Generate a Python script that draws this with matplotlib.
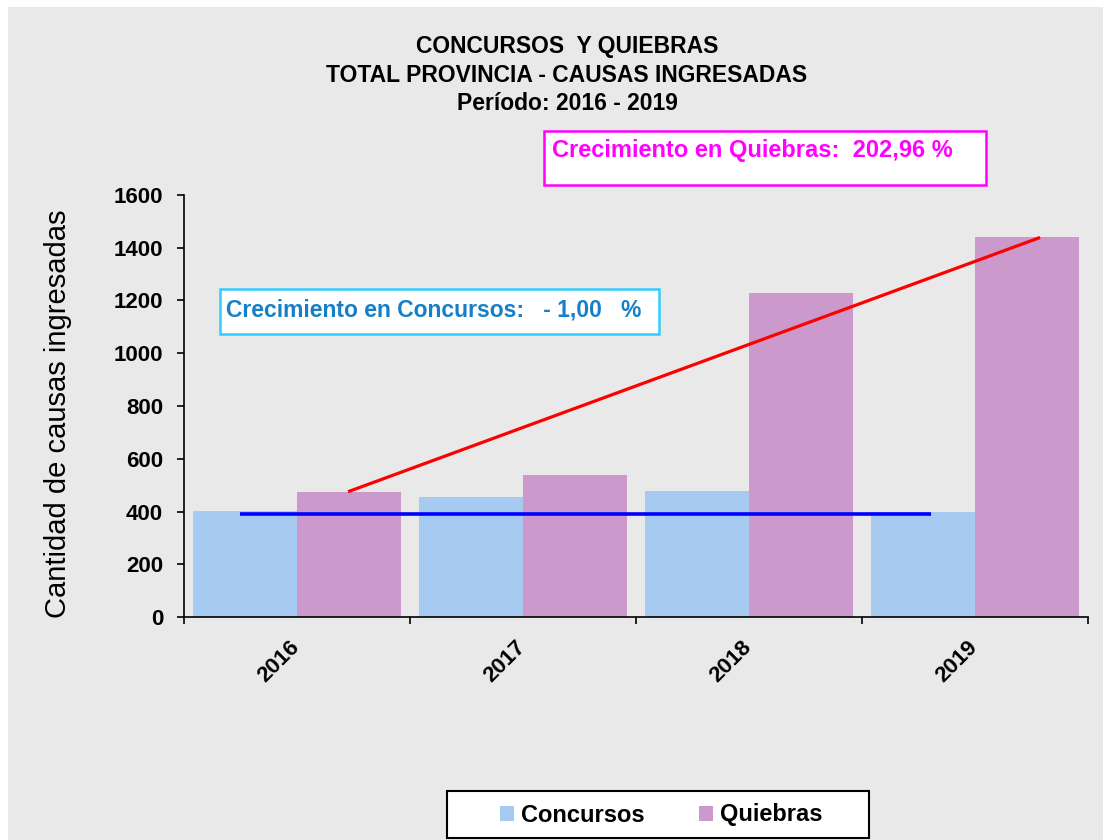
import matplotlib
matplotlib.use("Agg")
import matplotlib.pyplot as plt
import matplotlib.transforms as mtransforms
from matplotlib.patches import Rectangle, Patch
import numpy as np

# ---- data ----
years = ["2016", "2017", "2018", "2019"]
concursos = [402, 456, 477, 398]
quiebras = [475, 538, 1227, 1439]
yticks = [0, 200, 400, 600, 800, 1000, 1200, 1400, 1600]
# trend lines (x in category units, y in data units)
trend_quiebras_x = [0.226, 3.288]
trend_quiebras_y = [475, 1439]
trend_concursos_x = [-0.252, 2.805]
trend_concursos_y = [389, 389]

title = "CONCURSOS  Y QUIEBRAS\nTOTAL PROVINCIA - CAUSAS INGRESADAS\nPeríodo: 2016 - 2019"
ylabel = "Cantidad de causas ingresadas"
note_q = "Crecimiento en Quiebras:  202,96 %"
note_c = "Crecimiento en Concursos:   - 1,00   %"

C_CONC = "#A6CAF0"
C_QUIE = "#CC99CC"

plt.rcParams['font.family'] = ['Liberation Sans', 'DejaVu Sans']

W, H = 1103, 840
fig = plt.figure(figsize=(W / 100, H / 100), dpi=100)
fig.patch.set_facecolor("white")

def fx(px):
    return px / W

def fy(py):
    return 1 - py / H

# gray background
fig.patches.append(Rectangle((fx(8), 0), 1 - fx(8), fy(7), transform=fig.transFigure,
                             facecolor="#e9e9e9", edgecolor="none", zorder=-5))

ax = fig.add_axes([fx(184), fy(617), fx(1088) - fx(184), fy(195) - fy(617)])
ax.set_facecolor("none")
ax.set_zorder(1)

x = np.arange(len(years))
bw = 0.46
ax.bar(x - bw / 2, concursos, width=bw, color=C_CONC, label="Concursos", zorder=2)
ax.bar(x + bw / 2, quiebras, width=bw, color=C_QUIE, label="Quiebras", zorder=2)

ax.plot(trend_quiebras_x, trend_quiebras_y, color="#FF0000", lw=2.3, zorder=3, solid_capstyle="butt")
ax.plot(trend_concursos_x, trend_concursos_y, color="#0000FF", lw=2.6, zorder=3, solid_capstyle="butt")

ax.set_xlim(-0.5, 3.5)
ax.set_ylim(0, 1600)
ax.set_yticks(yticks)
ax.set_yticklabels([str(v) for v in yticks], fontsize=16, fontweight="bold")
ax.tick_params(axis="y", direction="out", length=5, width=1.2, pad=10)

ax.set_xticks(x)
ax.set_xticklabels(years, fontsize=16, fontweight="bold", rotation=45, ha="right", va="top",
                   rotation_mode="anchor")
ax.tick_params(axis="x", which="major", length=0, pad=14)
shift = mtransforms.ScaledTranslation(-8 / 100, 0, fig.dpi_scale_trans)
for lab in ax.get_xticklabels():
    lab.set_transform(lab.get_transform() + shift)
ax.set_xticks(np.arange(-0.5, 4.0, 1.0), minor=True)
ax.tick_params(axis="x", which="minor", direction="out", length=5, width=1.2)

for s in ["top", "right"]:
    ax.spines[s].set_visible(False)
for s in ["left", "bottom"]:
    ax.spines[s].set_linewidth(1.2)

ax.set_ylabel(ylabel, fontsize=21)
ax.yaxis.set_label_coords((72 - 184) / 904, (617 - 414) / 422)

# title
fig.text(fx(567), fy(75), title, ha="center", va="center", fontsize=16.5, fontweight="bold",
         linespacing=1.3)

# annotation boxes
fig.patches.append(Rectangle((fx(544), fy(185)), fx(986) - fx(544), fy(131) - fy(185),
                             transform=fig.transFigure, facecolor="white", edgecolor="#FF00FF",
                             lw=1.8, zorder=5))
fig.text(fx(552), fy(151), note_q, ha="left", va="center", fontsize=17, fontweight="bold",
         color="#FF00FF", zorder=6)

fig.patches.append(Rectangle((fx(220), fy(334)), fx(659) - fx(220), fy(289) - fy(334),
                             transform=fig.transFigure, facecolor="white", edgecolor="#33CCFF",
                             lw=1.8, zorder=5))
fig.text(fx(226), fy(310), note_c, ha="left", va="center", fontsize=16.5, fontweight="bold",
         color="#1580C8", zorder=6)

# legend
fig.patches.append(Rectangle((fx(447), fy(838)), fx(869) - fx(447), fy(791) - fy(838),
                             transform=fig.transFigure, facecolor="white", edgecolor="black",
                             lw=1.5, zorder=5))
handles = [Patch(facecolor=C_CONC, edgecolor="none"), Patch(facecolor=C_QUIE, edgecolor="none")]
leg = fig.legend(handles, ["Concursos", "Quiebras"], loc="center",
                 bbox_to_anchor=(fx(661), fy(815)), ncol=2, frameon=False,
                 prop={"size": 17, "weight": "bold"}, handlelength=0.6, handleheight=0.6,
                 handletextpad=0.3, columnspacing=2.3)
leg.set_zorder(6)

fig.savefig("out.png", dpi=100)
